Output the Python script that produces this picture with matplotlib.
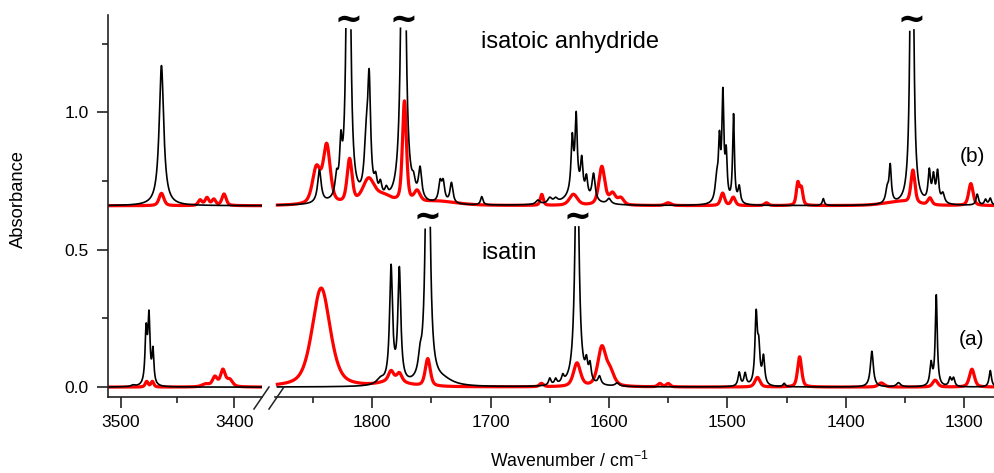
import numpy as np
import matplotlib
matplotlib.use("Agg")
import matplotlib.pyplot as plt
from matplotlib.lines import Line2D
from matplotlib.ticker import FixedLocator

plt.rcParams['font.family'] = ['Liberation Sans', 'DejaVu Sans']
plt.rcParams['mathtext.default'] = 'regular'

# ---- band tables: (position / cm-1, peak absorbance, half width / cm-1) ----
# (a) isatin, black and red traces
isatin_black_nh = [(3489, 0.005, 2.0), (3477.5, 0.19, 1.1), (3475.0, 0.24, 1.1), (3471.5, 0.12, 1.0)]
isatin_red_nh = [(3477, 0.02, 1.5), (3472, 0.02, 1.5), (3425, 0.01, 4.0), (3417, 0.035, 2.5),
                 (3410, 0.06, 2.5), (3404, 0.025, 3.0)]
isatin_black_fp = [(1793, 0.02, 4.0), (1784, 0.42, 1.5), (1777, 0.41, 1.5), (1759.5, 0.06, 1.8),
                   (1753, 1.60, 1.6), (1740, 0.02, 10.0), (1650, 0.025, 1.2), (1645, 0.02, 1.2),
                   (1639, 0.025, 1.2), (1627, 1.00, 1.8), (1619, 0.06, 1.2), (1616, 0.06, 1.2),
                   (1608, 0.03, 1.5), (1593, 0.012, 2.0), (1490, 0.05, 1.2), (1485, 0.045, 1.2),
                   (1475.7, 0.25, 1.2), (1473.5, 0.12, 1.2), (1469.5, 0.10, 1.2), (1452, 0.012, 1.2),
                   (1378, 0.13, 1.5), (1355.5, 0.015, 2.0), (1328, 0.08, 1.2), (1323.6, 0.33, 1.0),
                   (1312, 0.03, 1.2), (1309, 0.03, 1.2), (1278, 0.06, 1.2)]
isatin_red_fp = [(1843, 0.36, 9.0), (1784, 0.035, 2.5), (1777, 0.03, 2.5), (1782, 0.02, 12.0),
                 (1753, 0.10, 2.5), (1657, 0.012, 2.0), (1627, 0.085, 3.5), (1606, 0.14, 4.0),
                 (1599, 0.05, 4.0), (1557, 0.012, 2.0), (1550, 0.012, 2.0), (1474.6, 0.035, 2.5),
                 (1439, 0.11, 2.0), (1370, 0.015, 3.0), (1324.5, 0.025, 2.5), (1293.5, 0.065, 2.5)]

# (b) isatoic anhydride
anhydride_black_nh = [(3464, 0.51, 2.4)]
anhydride_red_nh = [(3464, 0.045, 2.5), (3430, 0.02, 2.0), (3424, 0.028, 2.0),
                    (3418, 0.022, 2.0), (3409, 0.042, 2.2)]
anhydride_black_fp = [(1844.5, 0.12, 1.8), (1830, 0.07, 1.5), (1826.4, 0.16, 1.2), (1820, 2.00, 1.45),
                      (1805, 0.18, 2.0), (1802.5, 0.40, 1.5), (1797, 0.06, 1.5), (1793, 0.05, 1.5),
                      (1788, 0.03, 1.5), (1773.6, 2.00, 1.66), (1765, 0.04, 1.5), (1759.5, 0.11, 1.6),
                      (1742.6, 0.07, 1.5), (1740, 0.07, 1.5), (1733, 0.075, 1.5), (1707.4, 0.03, 1.2),
                      (1660, 0.015, 2.0), (1650, 0.02, 2.0), (1645, 0.015, 2.0), (1631, 0.19, 1.2),
                      (1627.7, 0.26, 1.1), (1623, 0.12, 1.2), (1619, 0.07, 1.2), (1628, 0.05, 8.0),
                      (1613, 0.10, 1.6), (1600, 0.02, 2.0), (1509, 0.08, 1.6), (1506.7, 0.20, 1.0),
                      (1503.8, 0.38, 1.0), (1501, 0.16, 1.0), (1494.8, 0.32, 0.9), (1490, 0.06, 1.2),
                      (1419, 0.025, 1.0), (1365, 0.05, 1.6), (1362.5, 0.13, 1.1), (1344.2, 2.00, 1.2),
                      (1329.5, 0.11, 1.2), (1326, 0.09, 1.2), (1322.5, 0.11, 1.2), (1318, 0.035, 1.6),
                      (1289, 0.04, 1.2), (1282, 0.02, 1.2), (1278, 0.025, 1.2)]
anhydride_red_fp = [(1847, 0.13, 4.0), (1838.3, 0.21, 3.5), (1819, 0.16, 2.5), (1803, 0.09, 6.0),
                    (1790, 0.03, 8.0), (1772.7, 0.37, 2.0), (1762, 0.04, 3.0), (1745, 0.015, 20.0),
                    (1656.7, 0.04, 1.5), (1630, 0.04, 4.0), (1606, 0.14, 3.0), (1597, 0.04, 3.0),
                    (1590, 0.025, 3.0), (1550, 0.01, 3.0), (1504, 0.045, 2.0), (1495, 0.03, 2.0),
                    (1467, 0.01, 2.0), (1440.5, 0.08, 1.5), (1437.5, 0.06, 1.5), (1343.3, 0.12, 2.0),
                    (1355, 0.015, 15.0), (1329, 0.025, 2.0), (1294.4, 0.08, 2.2)]

anhydride_offset = 0.66
upper_cut = 1.306       # traces are cut here and marked with "~"
lower_cut = 0.583

cut_marks_upper = [1820, 1773.6, 1344.2]
cut_marks_lower = [1753, 1627]

# wavenumber grids of the two axis segments
nu_nh = np.linspace(3511, 3376, 4000)
nu_fp = np.linspace(1880, 1274, 16000)


def band_sum(nu, bands, eta):
    """Sum of pseudo-Voigt bands; eta is the Lorentzian fraction."""
    out = np.zeros_like(nu)
    for pos, height, hw in bands:
        d2 = (nu - pos) ** 2
        lor = hw ** 2 / (d2 + hw ** 2)
        gau = np.exp(-np.log(2) * d2 / hw ** 2)
        out += height * (eta * lor + (1 - eta) * gau)
    return out


def cut(y, limit):
    y = y.copy()
    y[y > limit] = np.nan
    return y


ETA_BLACK = 1.0
ETA_RED = 0.5

fig = plt.figure(figsize=(9.95, 4.73), dpi=100)
W, H = 995.0, 473.0
bottom = (H - 397) / H
height = (397 - 15) / H
axL = fig.add_axes([108 / W, bottom, (262 - 108) / W, height])
axR = fig.add_axes([275 / W, bottom, (995 - 275) / W, height])

red_kw = dict(color='#ff0000', lw=2.3, solid_joinstyle='round')
blk_kw = dict(color='black', lw=1.2)

# N-H stretching region
axL.plot(nu_nh, band_sum(nu_nh, isatin_red_nh, ETA_RED), **red_kw)
axL.plot(nu_nh, cut(band_sum(nu_nh, isatin_black_nh, ETA_BLACK), lower_cut), **blk_kw)
axL.plot(nu_nh, anhydride_offset + band_sum(nu_nh, anhydride_red_nh, ETA_RED), **red_kw)
axL.plot(nu_nh, cut(anhydride_offset + band_sum(nu_nh, anhydride_black_nh, ETA_BLACK), upper_cut),
         **blk_kw)

# fingerprint region
axR.plot(nu_fp, band_sum(nu_fp, isatin_red_fp, ETA_RED), **red_kw)
axR.plot(nu_fp, cut(band_sum(nu_fp, isatin_black_fp, ETA_BLACK), lower_cut), **blk_kw)
axR.plot(nu_fp, anhydride_offset + band_sum(nu_fp, anhydride_red_fp, ETA_RED), **red_kw)
axR.plot(nu_fp, cut(anhydride_offset + band_sum(nu_fp, anhydride_black_fp, ETA_BLACK), upper_cut),
         **blk_kw)

for pos in cut_marks_upper:
    axR.text(pos, 1.336, '~', fontsize=24, ha='center', va='center',
             family='DejaVu Sans', fontweight='bold')
for pos in cut_marks_lower:
    axR.text(pos, 0.620, '~', fontsize=24, ha='center', va='center',
             family='DejaVu Sans', fontweight='bold')

ylim = (-0.036, 1.354)
axL.set_xlim(3511, 3375.6)
axR.set_xlim(1882, 1274)
for ax in (axL, axR):
    ax.set_ylim(*ylim)
    ax.patch.set_alpha(0)
    for s in ('top', 'right'):
        ax.spines[s].set_visible(False)
    ax.spines['bottom'].set_linewidth(1.2)
    ax.spines['bottom'].set_color('#222222')
    ax.tick_params(axis='x', which='major', direction='out', length=8, width=1.2,
                   labelsize=12.5, pad=5, color='#222222')
    ax.tick_params(axis='x', which='minor', direction='out', length=4.5, width=1.2, color='#222222')

axL.spines['left'].set_linewidth(1.2)
axL.spines['left'].set_color('#222222')
axL.xaxis.set_major_locator(FixedLocator([3500, 3400]))
axL.xaxis.set_minor_locator(FixedLocator([3450]))
axL.yaxis.set_major_locator(FixedLocator([0.0, 0.5, 1.0]))
axL.yaxis.set_minor_locator(FixedLocator([0.25, 0.75, 1.25]))
axL.set_yticklabels(['0.0', '0.5', '1.0'])
axL.tick_params(axis='y', which='major', direction='out', length=8, width=1.2,
                labelsize=12.5, pad=6, color='#222222')
axL.tick_params(axis='y', which='minor', direction='out', length=4.5, width=1.2, color='#222222')

axR.spines['left'].set_visible(False)
axR.tick_params(axis='y', which='both', left=False, labelleft=False)
axR.xaxis.set_major_locator(FixedLocator([1800, 1700, 1600, 1500, 1400, 1300]))
axR.xaxis.set_minor_locator(FixedLocator([1850, 1750, 1650, 1550, 1450, 1350]))

# axis break marks
for (x0, y0, x1, y1) in [(254, 409, 269, 387), (269, 409, 284, 387)]:
    fig.add_artist(Line2D([x0 / W, x1 / W], [1 - y0 / H, 1 - y1 / H],
                          transform=fig.transFigure, color='#222222', lw=1.1))

# labels
fig.text(18 / W, 1 - 199 / H, 'Absorbance', rotation=90, ha='center', va='center', fontsize=13.2)
fig.text(490 / W, 1 - 467 / H, 'Wavenumber / cm$^{-1}$', ha='left', va='baseline', fontsize=12.7)
fig.text(481 / W, 1 - 48 / H, 'isatoic anhydride', ha='left', va='baseline', fontsize=17)
fig.text(481 / W, 1 - 259 / H, 'isatin', ha='left', va='baseline', fontsize=17)
fig.text(972 / W, 1 - 157 / H, '(b)', ha='center', va='center', fontsize=15)
fig.text(972 / W, 1 - 339 / H, '(a)', ha='center', va='center', fontsize=15)

fig.savefig('out.png', dpi=100)
